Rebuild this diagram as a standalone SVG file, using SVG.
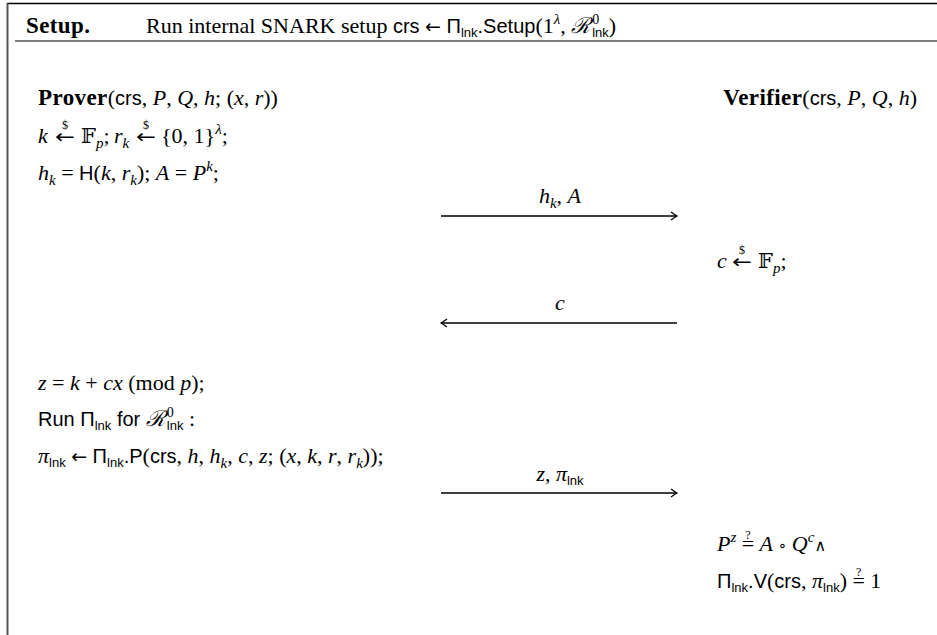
<svg xmlns="http://www.w3.org/2000/svg" width="937" height="635" viewBox="0 0 937 635">
<defs>
<style>
text{font-family:"Liberation Serif","DejaVu Serif",serif;font-size:22px;fill:#000}
.bf{font-weight:bold;font-size:23px;letter-spacing:0.4px}
.it{font-style:italic}
.sf{font-family:"Liberation Sans","DejaVu Sans",sans-serif;font-size:20px}
.sub{font-family:"Liberation Sans","DejaVu Sans",sans-serif;font-size:13px}
.subi{font-style:italic;font-size:15px}
.sup{font-size:14px}
.supi{font-style:italic;font-size:15px}
.dol{font-size:12px}
.q{font-size:12px}
.ar{font-family:"DejaVu Sans",sans-serif;font-size:19px}
.op{font-family:"DejaVu Serif",serif;font-size:16px}
.bb{font-family:"DejaVu Serif","DejaVu Sans",serif;font-size:21px}
.msg{stroke:#000;stroke-width:1.3;fill:none}
</style>
<marker id="ah" viewBox="-8 -5 10 10" markerWidth="10" markerHeight="10" refX="0" refY="0" orient="auto" markerUnits="userSpaceOnUse">
<path d="M-6,-4 Q-2,-1 0,0 Q-2,1 -6,4" fill="none" stroke="#000" stroke-width="1.2"/>
</marker>
</defs>
<rect width="937" height="635" fill="#fff"/>
<g id="frame">
<line x1="7" y1="3.5" x2="937" y2="3.5" stroke="#000" stroke-width="1.5"/>
<line x1="7.5" y1="3" x2="7.5" y2="635" stroke="#555" stroke-width="2"/>
<line x1="15" y1="41" x2="937" y2="41" stroke="#555" stroke-width="1.5"/>
</g>
<g id="setup">
<text x="26" y="33" class="bf">Setup.</text>
<text x="146" y="33">Run internal SNARK setup <tspan class="sf">crs</tspan> <tspan class="ar">←</tspan> <tspan class="sf">Π</tspan><tspan class="sub" dy="4">lnk</tspan><tspan class="sf" dy="-4">.Setup</tspan>(1<tspan class="supi" dy="-9">λ</tspan><tspan dy="9">, </tspan><tspan class="it">ℛ</tspan><tspan class="sup" dx="2" dy="-9">0</tspan><tspan class="sub" dx="-7" dy="13">lnk</tspan><tspan dy="-4">)</tspan></text>
</g>
<g id="prover">
<text x="38" y="105"><tspan class="bf">Prover</tspan>(<tspan class="sf">crs</tspan>, <tspan class="it">P</tspan>, <tspan class="it">Q</tspan>, <tspan class="it">h</tspan>; (<tspan class="it">x</tspan>, <tspan class="it">r</tspan>))</text>
<text x="38" y="143"><tspan class="it">k</tspan><tspan class="bb" x="81">𝔽</tspan><tspan class="subi" dy="5">p</tspan><tspan dy="-5">;</tspan><tspan class="it" x="114">r</tspan><tspan class="subi" dy="5">k</tspan><tspan x="161" dy="-5">{0, 1}</tspan><tspan class="supi" dy="-9">λ</tspan><tspan dy="9">;</tspan></text>
<text class="ar" text-anchor="middle" transform="translate(65,143) scale(1.25,1)">←</text>
<text x="65" y="129" class="dol" text-anchor="middle">$</text>
<text class="ar" text-anchor="middle" transform="translate(146,143) scale(1.25,1)">←</text>
<text x="146" y="129" class="dol" text-anchor="middle">$</text>
<text x="38" y="180"><tspan class="it">h</tspan><tspan class="subi" dy="5">k</tspan><tspan dy="-5"> = </tspan><tspan class="sf">H</tspan>(<tspan class="it">k</tspan>, <tspan class="it">r</tspan><tspan class="subi" dy="5">k</tspan><tspan dy="-5">); </tspan><tspan class="it">A</tspan> = <tspan class="it">P</tspan><tspan class="supi" dy="-9">k</tspan><tspan dy="9">;</tspan></text>
<text x="38" y="390"><tspan class="it">z</tspan> = <tspan class="it">k</tspan> + <tspan class="it">cx</tspan> (mod <tspan class="it">p</tspan>);</text>
<text x="38" y="426"><tspan class="sf">Run  Π</tspan><tspan class="sub" dy="4">lnk</tspan><tspan class="sf" dy="-4">  for  </tspan><tspan class="it">ℛ</tspan><tspan class="sup" dx="2" dy="-9">0</tspan><tspan class="sub" dx="-7" dy="13">lnk</tspan><tspan dy="-4"> :</tspan></text>
<text x="38" y="463"><tspan class="it">π</tspan><tspan class="sub" dy="4">lnk</tspan><tspan dy="-4"> </tspan><tspan class="ar">←</tspan> <tspan class="sf">Π</tspan><tspan class="sub" dy="4">lnk</tspan><tspan class="sf" dy="-4">.P</tspan>(<tspan class="sf">crs</tspan>, <tspan class="it">h</tspan>, <tspan class="it">h</tspan><tspan class="subi" dy="5">k</tspan><tspan dy="-5">, </tspan><tspan class="it">c</tspan>, <tspan class="it">z</tspan>; (<tspan class="it">x</tspan>, <tspan class="it">k</tspan>, <tspan class="it">r</tspan>, <tspan class="it">r</tspan><tspan class="subi" dy="5">k</tspan><tspan dy="-5">));</tspan></text>
</g>
<g id="verifier">
<text x="917" y="105" text-anchor="end"><tspan class="bf">Verifier</tspan>(<tspan class="sf">crs</tspan>, <tspan class="it">P</tspan>, <tspan class="it">Q</tspan>, <tspan class="it">h</tspan>)</text>
<text x="717" y="268"><tspan class="it">c</tspan><tspan class="bb" x="758">𝔽</tspan><tspan class="subi" dy="5">p</tspan><tspan dy="-5">;</tspan></text>
<text class="ar" text-anchor="middle" transform="translate(742,268) scale(1.25,1)">←</text>
<text x="742" y="254" class="dol" text-anchor="middle">$</text>
<text x="717" y="551"><tspan class="it">P</tspan><tspan class="supi" dy="-9">z</tspan><tspan dy="9"> =</tspan><tspan class="q" dx="-9" dy="-12">?</tspan><tspan dx="3.5" dy="12"> </tspan><tspan class="it">A</tspan> <tspan class="op">∘</tspan> <tspan class="it">Q</tspan><tspan class="supi" dy="-9">c</tspan><tspan class="op" dy="9">∧</tspan></text>
<text x="717" y="588"><tspan class="sf">Π</tspan><tspan class="sub" dy="4">lnk</tspan><tspan class="sf" dy="-4">.V</tspan>(<tspan class="sf">crs</tspan>, <tspan class="it">π</tspan><tspan class="sub" dy="4">lnk</tspan><tspan dy="-4">) =</tspan><tspan class="q" dx="-9" dy="-12">?</tspan><tspan dx="3.5" dy="12"> 1</tspan></text>
</g>
<g id="connectors">
<line class="msg" x1="441" y1="216" x2="677" y2="216" marker-end="url(#ah)"/>
<text x="560" y="203" text-anchor="middle"><tspan class="it">h</tspan><tspan class="subi" dy="5">k</tspan><tspan dy="-5">, </tspan><tspan class="it">A</tspan></text>
<line class="msg" x1="677" y1="323" x2="441" y2="323" marker-end="url(#ah)"/>
<text x="560" y="310" text-anchor="middle" class="it">c</text>
<line class="msg" x1="441" y1="493" x2="677" y2="493" marker-end="url(#ah)"/>
<text x="560" y="481" text-anchor="middle"><tspan class="it">z</tspan>, <tspan class="it">π</tspan><tspan class="sub" dy="4">lnk</tspan></text>
</g>
</svg>
